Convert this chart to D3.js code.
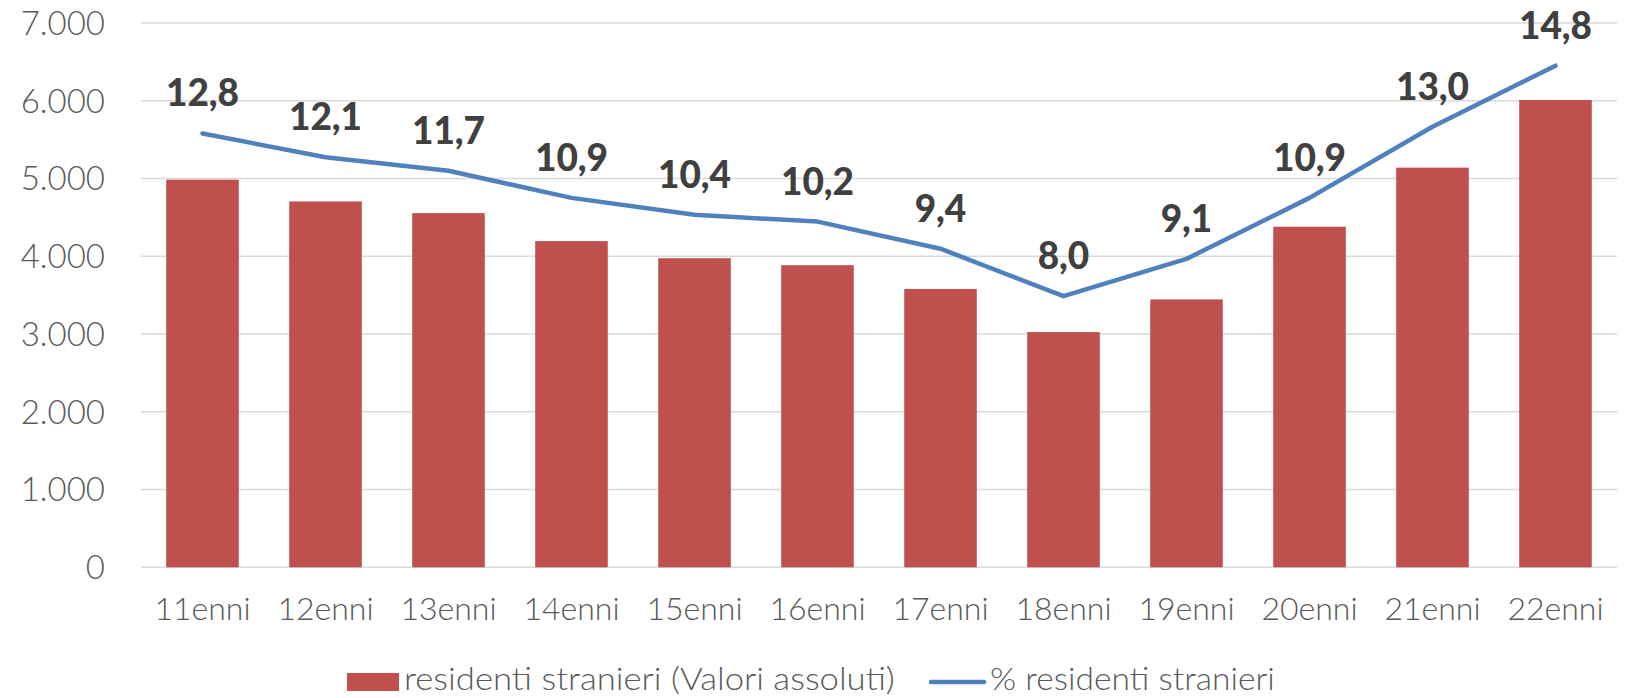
<!DOCTYPE html>
<html>
<head>
<meta charset="utf-8">
<script src="https://cdn.jsdelivr.net/npm/d3@7"></script>
<style>
  body { margin: 0; background: #fff; }
  svg { display: block; font-family: Lato, "Liberation Sans", sans-serif; }
</style>
</head>
<body>
<div id="chart"></div>
<script>
const categories = ["11enni", "12enni", "13enni", "14enni", "15enni", "16enni",
    "17enni", "18enni", "19enni", "20enni", "21enni", "22enni"];
const residenti = [4985, 4705, 4555, 4195, 3975, 3885, 3580, 3025, 3445, 4380, 5140, 6010];
const percentuale = [12.8, 12.1, 11.7, 10.9, 10.4, 10.2, 9.4, 8.0, 9.1, 10.9, 13.0, 14.8];
const yTicks = [0, 1000, 2000, 3000, 4000, 5000, 6000, 7000];

(function () {
    const W = 1627, H = 698;
    const left = 141, right = 1617, top = 23, bottom = 567.3;

    const svg = d3.select("#chart").append("svg")
        .attr("width", W)
        .attr("height", H);

    const x = d3.scaleBand()
        .domain(categories)
        .range([left, right])
        .paddingInner(0.41)
        .paddingOuter(0.205);

    const y = d3.scaleLinear().domain([0, 7000]).range([bottom, top]);
    const y2 = d3.scaleLinear().domain([0, 16.06]).range([bottom, top]);

    const fmt = d3.formatLocale({ decimal: ",", thousands: ".", grouping: [3], currency: ["", "€"] });
    const fmtInt = fmt.format(",d");
    const fmtPct = fmt.format(",.1f");

    // gridlines
    svg.append("g")
        .selectAll("line")
        .data(yTicks)
        .enter()
        .append("line")
        .attr("x1", left)
        .attr("x2", right)
        .attr("y1", d => y(d))
        .attr("y2", d => y(d))
        .attr("stroke", "#d9d9d9")
        .attr("stroke-width", 1.5);

    // y axis labels
    svg.append("g")
        .selectAll("text")
        .data(yTicks)
        .enter()
        .append("text")
        .attr("x", 105)
        .attr("y", d => y(d))
        .attr("dy", "0.36em")
        .attr("text-anchor", "end")
        .attr("fill", "#595959")
        .style("font-size", "33px")
        .style("font-weight", 300)
        .text(d => fmtInt(d));

    // bars
    svg.append("g")
        .selectAll("rect")
        .data(residenti)
        .enter()
        .append("rect")
        .attr("x", (d, i) => x(categories[i]))
        .attr("width", x.bandwidth())
        .attr("y", d => y(d))
        .attr("height", d => bottom - y(d))
        .attr("fill", "#c0504d");

    // x labels
    svg.append("g")
        .selectAll("text")
        .data(categories)
        .enter()
        .append("text")
        .attr("x", d => x(d) + x.bandwidth() / 2)
        .attr("y", 620)
        .attr("text-anchor", "middle")
        .attr("fill", "#595959")
        .style("font-size", "32px")
        .style("font-weight", 300)
        .text(d => d);

    // line
    const line = d3.line()
        .x((d, i) => x(categories[i]) + x.bandwidth() / 2)
        .y(d => y2(d));

    svg.append("path")
        .datum(percentuale)
        .attr("fill", "none")
        .attr("stroke", "#4f81bd")
        .attr("stroke-width", 4.5)
        .attr("stroke-linecap", "round")
        .attr("stroke-linejoin", "round")
        .attr("d", line);

    // line labels
    svg.append("g")
        .selectAll("text")
        .data(percentuale)
        .enter()
        .append("text")
        .attr("x", (d, i) => x(categories[i]) + x.bandwidth() / 2)
        .attr("y", d => y2(d) - 27)
        .attr("text-anchor", "middle")
        .attr("fill", "#404040")
        .style("font-size", "37px")
        .style("font-weight", 900)
        .text(d => fmtPct(d));

    // legend, text fitted to the reference width
    function fittedText(g, x0, txt, w) {
        const t = g.append("text")
            .attr("y", 690)
            .attr("fill", "#595959")
            .style("font-size", "31px")
            .style("font-weight", 300)
            .text(txt);
        const natural = t.node().getComputedTextLength();
        t.attr("transform", `translate(${x0},0) scale(${w / natural},1)`);
    }

    const lg = svg.append("g");
    lg.append("rect")
        .attr("x", 347).attr("y", 673)
        .attr("width", 52).attr("height", 18)
        .attr("fill", "#c0504d");
    fittedText(lg, 404, "residenti stranieri (Valori assoluti)", 491);
    lg.append("line")
        .attr("x1", 931).attr("x2", 984)
        .attr("y1", 682).attr("y2", 682)
        .attr("stroke", "#4f81bd")
        .attr("stroke-width", 4.5)
        .attr("stroke-linecap", "round");
    fittedText(lg, 990, "% residenti stranieri", 285);
})();
</script>
</body>
</html>
